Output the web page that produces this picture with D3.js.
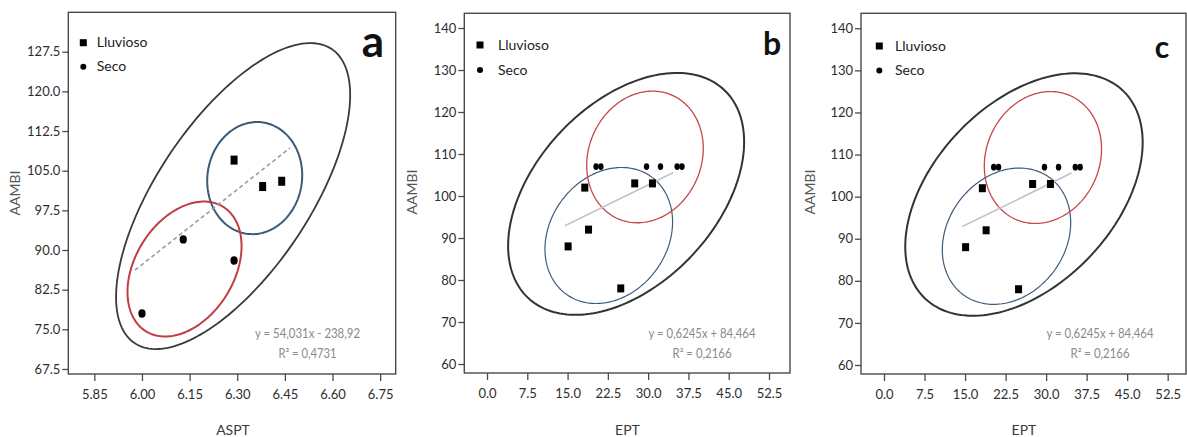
<!DOCTYPE html>
<html><head><meta charset="utf-8">
<script src="https://cdn.jsdelivr.net/npm/d3@7"></script>
<style>body{margin:0;background:#fff}svg{display:block}</style>
</head><body>
<svg id="chart" width="1187" height="437"></svg>
<script>
// ---------- DATA ----------
const panelLabels = ["a", "b", "c"];
const xTitles = ["ASPT", "EPT", "EPT"];
const yTitle = "AAMBI";
const seriesNames = ["Lluvioso", "Seco"];

const xTicksA = [5.85, 6.00, 6.15, 6.30, 6.45, 6.60, 6.75];
const yTicksA = [67.5, 75.0, 82.5, 90.0, 97.5, 105.0, 112.5, 120.0, 127.5];
const xTicksB = [0.0, 7.5, 15.0, 22.5, 30.0, 37.5, 45.0, 52.5];
const yTicksB = [60, 70, 80, 90, 100, 110, 120, 130, 140];

// panel a
const lluviosoA_x = [6.29, 6.38, 6.44];
const lluviosoA_y = [107, 102, 103];
const secoA_x = [6.13, 6.29, 6.00];
const secoA_y = [92, 88, 78];
const trendA_x = [5.978, 6.466];
const trendA_y = [86.2, 109.3];
// ellipses: [cx, cy, sx, sy, rho]
const ellipseA_all = [6.287, 100.2, 0.3686, 28.93, 0.66];
const ellipseA_lluvioso = [6.355, 103.6, 0.1496, 10.6, 0.05];
const ellipseA_seco = [6.134, 86.4, 0.1796, 12.76, 0.34];

// panels b & c
const lluviosoB_x = [18.2, 27.5, 30.8, 15.1, 18.9, 24.9];
const lluviosoB_y = [102, 103, 103, 88, 92, 78];
const secoB_x = [20.3, 21.2, 29.7, 32.3, 35.4, 36.3];
const secoB_y = [107, 107, 107, 107, 107, 107];
const trendB_x = [14.5, 34.7];
const trendB_y = [92.9, 105.6];
const ellipseB_all = [25.9, 100.5, 21.97, 28.8, 0.43];
const ellipseB_lluvioso = [22.67, 90.6, 11.88, 16.19, 0.2];
const ellipseB_seco = [29.41, 109.3, 10.85, 15.67, 0.13];

const equations = ["y = 54,031x - 238,92", "y = 0,6245x + 84,464", "y = 0,6245x + 84,464"];
const rsquared = ["R\u00b2 = 0,4731", "R\u00b2 = 0,2166", "R\u00b2 = 0,2166"];

// ---------- LAYOUT ----------
const svg = d3.select("#chart");
const FONT = "Lato, 'Open Sans', sans-serif";

const panels = [
  { frame: [68.3, 12.3, 395.7, 374], xd: [5.768, 6.799], yd: [66.55, 134.95],
    xt: xTicksA, yt: yTicksA, xf: d3.format(".2f"), yf: d3.format(".1f"),
    ll: [lluviosoA_x, lluviosoA_y], se: [secoA_x, secoA_y], tr: [trendA_x, trendA_y],
    el: [ellipseA_all, ellipseA_lluvioso, ellipseA_seco], dashed: true,
    sq: [7, 9], ci: [3.6, 4.2], elW: [1.8, 2, 2],
    leg: { mx: 83.3, tx: 96.7, y1: 42.7, y2: 66.7 },
    lab: { x: 373, y: 57, size: 44 }, eq: { x: 307.5, w1: 105, w2: 58 },
    ytx: 15, yty: 193, xtx: 233 },
  { frame: [464.3, 13.3, 790, 373], xd: [-4.23, 56.41], yd: [57.86, 143.5],
    xt: xTicksB, yt: yTicksB, xf: d3.format(".1f"), yf: d3.format("d"),
    ll: [lluviosoB_x, lluviosoB_y], se: [secoB_x, secoB_y], tr: [trendB_x, trendB_y],
    el: [ellipseB_all, ellipseB_lluvioso, ellipseB_seco], dashed: false,
    sq: [7, 8], ci: [2.7, 3.4], elW: [2, 1.2, 1.3],
    leg: { mx: 480, tx: 498, y1: 45, y2: 70 },
    lab: { x: 772, y: 55, size: 32 }, eq: { x: 702, w1: 107, w2: 59 },
    ytx: 412, yty: 192, xtx: 627.5 },
  { frame: [861, 13.3, 1186, 374], xd: [-4.26, 55.89], yd: [57.86, 143.56],
    xt: xTicksB, yt: yTicksB, xf: d3.format(".1f"), yf: d3.format("d"),
    ll: [lluviosoB_x, lluviosoB_y], se: [secoB_x, secoB_y], tr: [trendB_x, trendB_y],
    el: [ellipseB_all, ellipseB_lluvioso, ellipseB_seco], dashed: false,
    sq: [7, 8], ci: [2.7, 3.4], elW: [2, 1.2, 1.3],
    leg: { mx: 879.3, tx: 895, y1: 46, y2: 70.5 },
    lab: { x: 1162, y: 58, size: 30 }, eq: { x: 1100, w1: 107, w2: 59 },
    ytx: 810, yty: 192, xtx: 1024 }
];
const ellipseColors = ["#333333", "#3e5b7c", "#c8454a"];
const ellipseColorsA = ["#3a3a3a", "#3b5a78", "#c23c40"];

function ellipsePoints(e) {
  const [cx, cy, sx, sy, r] = e;
  const q = Math.sqrt(1 - r * r);
  return d3.range(0, 2 * Math.PI + 0.001, Math.PI / 90).map(t =>
    [cx + sx * Math.cos(t), cy + sy * (r * Math.cos(t) + q * Math.sin(t))]);
}

panels.forEach((p, i) => {
  const [x0, y0, x1, y1] = p.frame;
  const x = d3.scaleLinear().domain(p.xd).range([x0, x1]);
  const y = d3.scaleLinear().domain(p.yd).range([y1, y0]);
  const g = svg.append("g");

  // ellipses
  const line = d3.line().x(d => x(d[0])).y(d => y(d[1])).curve(d3.curveLinearClosed);
  p.el.forEach((e, k) => {
    g.append("path").attr("d", line(ellipsePoints(e)))
      .attr("fill", "none")
      .attr("stroke", i === 0 ? ellipseColorsA[k] : ellipseColors[k])
      .attr("stroke-width", p.elW[k]);
  });

  // trend line
  g.append("line")
    .attr("x1", x(p.tr[0][0])).attr("y1", y(p.tr[1][0]))
    .attr("x2", x(p.tr[0][1])).attr("y2", y(p.tr[1][1]))
    .attr("stroke", p.dashed ? "#9a9aa8" : "#c4c4c4")
    .attr("stroke-width", 1.6)
    .attr("stroke-dasharray", p.dashed ? "4,3" : null);

  // points
  const ll = p.ll[0].map((v, j) => [v, p.ll[1][j]]);
  const se = p.se[0].map((v, j) => [v, p.se[1][j]]);
  g.selectAll(".sq").data(ll).enter().append("rect")
    .attr("x", d => x(d[0]) - p.sq[0] / 2).attr("y", d => y(d[1]) - p.sq[1] / 2)
    .attr("width", p.sq[0]).attr("height", p.sq[1]).attr("fill", "#000");
  g.selectAll(".ci").data(se).enter().append("ellipse")
    .attr("cx", d => x(d[0])).attr("cy", d => y(d[1]))
    .attr("rx", p.ci[0]).attr("ry", p.ci[1]).attr("fill", "#000");

  // frame
  g.append("rect").attr("x", x0).attr("y", y0).attr("width", x1 - x0).attr("height", y1 - y0)
    .attr("fill", "none").attr("stroke", "#4a4a4a").attr("stroke-width", 1.4);

  // axes
  const ax = g.append("g").attr("transform", `translate(0,${y1})`)
    .call(d3.axisBottom(x).tickValues(p.xt).tickFormat(p.xf).tickSize(7).tickPadding(9));
  const ay = g.append("g").attr("transform", `translate(${x0},0)`)
    .call(d3.axisLeft(y).tickValues(p.yt).tickFormat(p.yf).tickSize(6).tickPadding(2));
  [ax, ay].forEach(a => {
    a.select(".domain").remove();
    a.selectAll("line").attr("stroke", "#4a4a4a").attr("stroke-width", 1.3);
    a.selectAll("text").attr("fill", "#2e2e2e").style("font-family", FONT).style("font-size", "13px");
  });

  // axis titles
  g.append("text").attr("x", p.xtx).attr("y", 435).attr("text-anchor", "middle")
    .style("font-family", FONT).style("font-size", "14px").attr("fill", "#3a3a3a").text(xTitles[i]);
  g.append("text").attr("transform", `translate(${p.ytx + 5},${p.yty}) rotate(-90)`)
    .attr("text-anchor", "middle").style("font-family", FONT).style("font-size", "14px")
    .attr("fill", "#555").text(yTitle);

  // legend
  g.append("rect").attr("x", p.leg.mx - 3.5).attr("y", p.leg.y1 - 3.5).attr("width", 7).attr("height", 7).attr("fill", "#000");
  g.append("circle").attr("cx", p.leg.mx).attr("cy", p.leg.y2).attr("r", 3).attr("fill", "#000");
  [p.leg.y1, p.leg.y2].forEach((yy, k) => {
    g.append("text").attr("x", p.leg.tx).attr("y", yy + 4.5)
      .style("font-family", FONT).style("font-size", "14px").attr("fill", "#222").text(seriesNames[k]);
  });

  // panel label
  g.append("text").attr("x", p.lab.x).attr("y", p.lab.y).attr("text-anchor", "middle")
    .style("font-family", FONT).style("font-weight", "bold").style("font-size", p.lab.size + "px")
    .attr("fill", "#111").text(panelLabels[i]);

  // equation
  g.append("text").attr("x", p.eq.x - p.eq.w1 / 2).attr("y", 338)
    .attr("textLength", p.eq.w1).attr("lengthAdjust", "spacingAndGlyphs")
    .style("font-family", FONT).style("font-size", "13px").attr("fill", "#8a8a8a").text(equations[i]);
  g.append("text").attr("x", p.eq.x - p.eq.w2 / 2).attr("y", 358)
    .attr("textLength", p.eq.w2).attr("lengthAdjust", "spacingAndGlyphs")
    .style("font-family", FONT).style("font-size", "13px").attr("fill", "#8a8a8a").text(rsquared[i]);
});
</script>
</body></html>
